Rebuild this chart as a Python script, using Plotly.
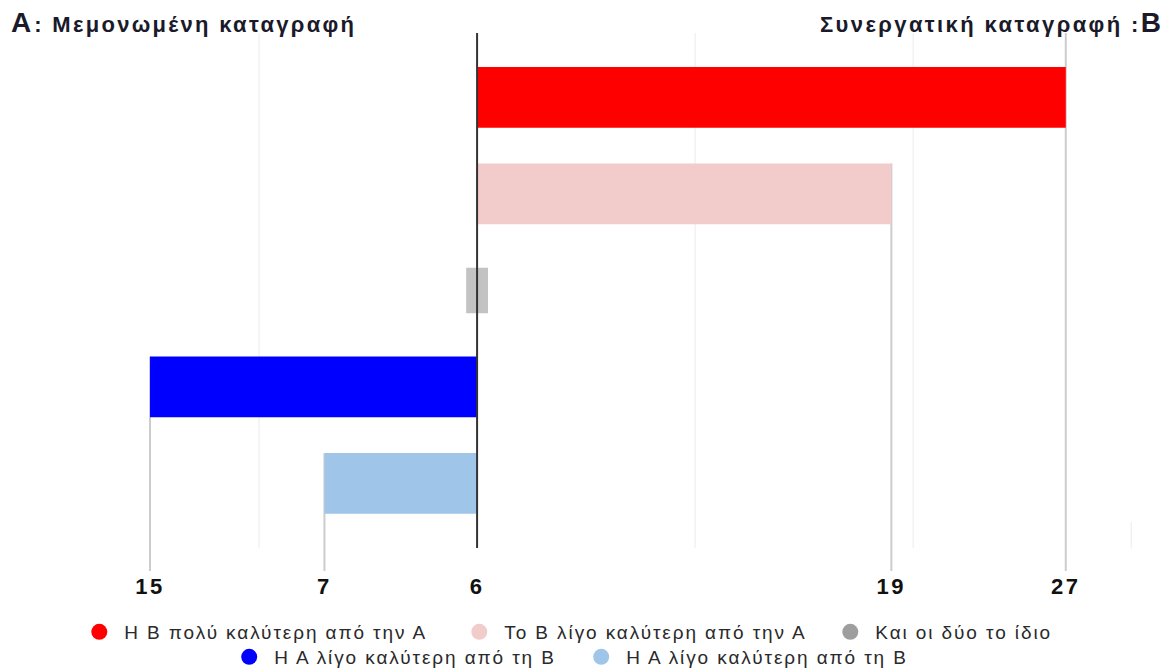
import plotly.graph_objects as go

# Responses per category (A = individual recording, B = collaborative recording)
categories = [
    "Η Β πολύ καλύτερη από την Α",
    "Το Β λίγο καλύτερη από την Α",
    "Και οι δύο το ίδιο",
    "Η Α λίγο καλύτερη από τη Β",
    "Η Α λίγο καλύτερη από τη Β",
]
counts = [27, 19, 6, 15, 7]
# +1: bar extends to the B side, -1: to the A side, 0: neutral block on the axis
sides = [1, 1, 0, -1, -1]
bar_colors = ["#FF0000", "#F2CBCB", "#C3C3C3", "#0000FF", "#9FC5E8"]
legend_colors = ["#FF0000", "#F2CBCB", "#9E9E9E", "#0000FF", "#9FC5E8"]
legend_groups = ["legend", "legend", "legend", "legend2", "legend2"]
legend_entry_widths = [325, 316, None, 297, None]

NEUTRAL_WIDTH = 1.0      # fixed width of the "same" block, centred on zero
BAR_WIDTH = 0.63
NEUTRAL_BAR_WIDTH = 0.47
X_RANGE = [-20, 31]
Y_RANGE = [4.907, -0.668]
GRID_BOTTOM = 4.668
GRID_VALUES = [-10, 10, 20, 30]


def spaced(text, px):
    return f"<span style='letter-spacing:{px}px'>{text}</span>"


fig = go.Figure()

tick_vals, tick_text = [], []
for i, (cat, n, s, bc, lc, lg, lw) in enumerate(
        zip(categories, counts, sides, bar_colors, legend_colors,
            legend_groups, legend_entry_widths)):
    if s == 0:
        x_len, base, w = NEUTRAL_WIDTH, -NEUTRAL_WIDTH / 2, NEUTRAL_BAR_WIDTH
        end = 0
    else:
        x_len, base, w = s * n, 0, BAR_WIDTH
        end = s * n
    fig.add_trace(go.Bar(
        y=[i], x=[x_len], base=[base], orientation="h", width=w,
        marker=dict(color=bc, line=dict(width=0)),
        showlegend=False, hoverinfo="skip",
    ))
    # legend entry with a round marker
    entry = dict(
        x=[None], y=[None], mode="markers", name=spaced(cat, 1.9),
        marker=dict(color=lc, size=16, symbol="circle"),
        legend=lg, showlegend=True,
    )
    if lw:
        entry["legendwidth"] = lw
    fig.add_trace(go.Scatter(**entry))
    tick_vals.append(end)
    tick_text.append(spaced(str(n), 2.5))

shapes = []
# light vertical gridlines
for g in GRID_VALUES:
    y0 = -0.668 if g != 30 else 4.40
    shapes.append(dict(type="line", xref="x", yref="y", x0=g, x1=g,
                       y0=y0, y1=GRID_BOTTOM,
                       line=dict(color="#EBEBEB", width=1), layer="below"))
# drop lines from the end of each bar to its value label
for i, (n, s) in enumerate(zip(counts, sides)):
    if s == 0:
        continue
    top = -0.668 if i == 0 else i - BAR_WIDTH / 2
    shapes.append(dict(type="line", xref="x", yref="y", x0=s * n, x1=s * n,
                       y0=top, y1=Y_RANGE[0],
                       line=dict(color="#CCCCCC", width=2), layer="below"))
# central axis
shapes.append(dict(type="line", xref="x", yref="y", x0=0, x1=0,
                   y0=-0.668, y1=GRID_BOTTOM,
                   line=dict(color="#333333", width=2), layer="above"))

legend_style = dict(orientation="h", xref="container", yref="container",
                    xanchor="center", yanchor="middle",
                    font=dict(size=19, color="#2A2A2A",
                              family="Liberation Sans, Arial, sans-serif"),
                    itemwidth=40, traceorder="normal",
                    bgcolor="rgba(0,0,0,0)")

fig.update_layout(
    width=1169, height=672,
    margin=dict(l=41, r=16, t=33, b=101, autoexpand=False),
    plot_bgcolor="white", paper_bgcolor="white",
    barmode="overlay",
    font=dict(family="Liberation Sans, Arial, sans-serif", color="#222222"),
    xaxis=dict(range=X_RANGE, showgrid=False, zeroline=False, showline=False,
               tickmode="array", tickvals=tick_vals, ticktext=tick_text,
               ticks="", tickfont=dict(size=22, color="#111111",
                                       family="Liberation Sans, Arial, sans-serif",
                                       weight="bold"),
               automargin=False, fixedrange=True),
    yaxis=dict(range=Y_RANGE, showgrid=False, zeroline=False, showline=False,
               showticklabels=False, automargin=False, fixedrange=True),
    shapes=shapes,
    legend=dict(legend_style, x=0.484, y=1 - 632 / 672),
    legend2=dict(legend_style, x=0.4865, y=1 - 657 / 672),
    annotations=[
        dict(xref="paper", yref="paper", x=(9 - 41) / 1112, y=(571 - 22) / 538,
             xanchor="left", yanchor="middle", showarrow=False,
             text="<b><span style='font-size:28px;letter-spacing:3px'>A</span>"
                  + spaced(": Μεμονωμένη καταγραφή", 2.3) + "</b>",
             font=dict(size=22, color="#1A1A2A")),
        dict(xref="paper", yref="paper", x=(1163 - 41) / 1112, y=(571 - 22) / 538,
             xanchor="right", yanchor="middle", showarrow=False,
             text="<b>" + spaced("Συνεργατική καταγραφή :", 2.4)
                  + "<span style='font-size:28px'>B</span></b>",
             font=dict(size=22, color="#1A1A2A")),
    ],
)

fig.write_html("out.html")
